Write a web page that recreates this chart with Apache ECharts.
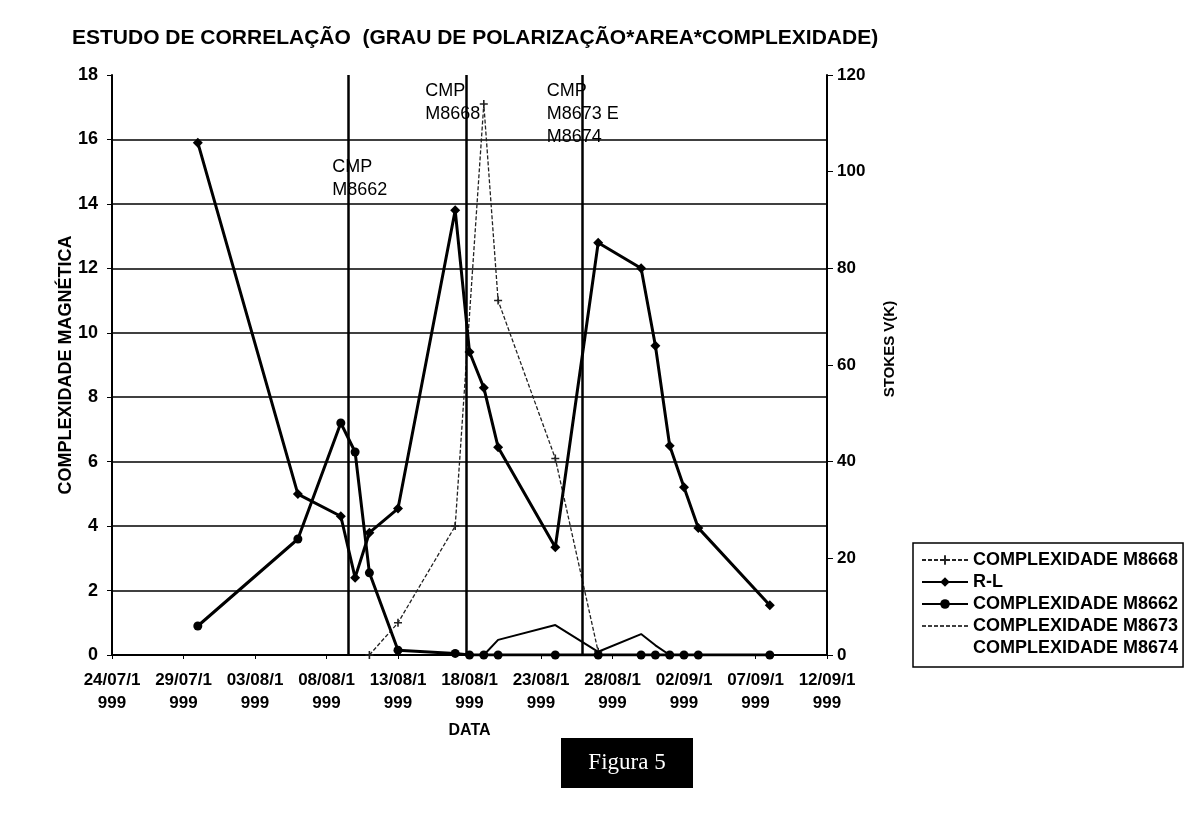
<!DOCTYPE html>
<html>
<head>
<meta charset="utf-8">
<script src="https://cdn.jsdelivr.net/npm/echarts@6/dist/echarts.min.js"></script>
<style>
html,body{margin:0;padding:0;background:#fff;}
#chart{width:1195px;height:827px;}
</style>
</head>
<body>
<div id="chart"></div>
<script>
// ---- data ----
const xTickLabels = ['24/07/1999','29/07/1999','03/08/1999','08/08/1999','13/08/1999','18/08/1999','23/08/1999','28/08/1999','02/09/1999','07/09/1999','12/09/1999'];
// day offsets from 24/07/1999
const rlDays = [6,13,16,17,18,20,24,25,26,27,31,34,37,38,39,40,41,46];
const rlValues = [106,33.3,28.7,16,25.3,30.3,92,62.7,55.3,43,22.3,85.3,80,64,43.3,34.7,26.3,10.3];
const m8662Days = [6,13,16,17,18,20,24,25,26,27,31,34,37,38,39,40,41,46];
const m8662Values = [0.9,3.6,7.2,6.3,2.55,0.15,0.05,0,0,0,0,0,0,0,0,0,0,0];
const m8668Days = [18,20,24,26,27,31,34];
const m8668Values = [0,1.0,4.0,17.1,11.0,6.1,0.1];
const m8673Days = [24,25,26,27,31,34,37,38,39,40,41,46];
const m8673Values = [0,0,0,0.47,0.93,0.1,0.65,0.3,0,0,0,0];
const m8674Days = [34,37,38,39,40,41,46];
const m8674Values = [0,0,0,0,0,0,0];
const cmpDays = [16.5, 24.75, 32.9];
const cmpLabels = ['CMP\nM8662', 'CMP\nM8668', 'CMP\nM8673 E\nM8674'];
const cmpLabelAnchor = [[15.4, 15.5], [21.9, 17.85], [30.4, 17.85]];

const pair = (xs, ys) => xs.map((x, i) => [x, ys[i]]);
const FONT = "'Liberation Sans', Arial, sans-serif";
const plusSym = 'path://M4,0h2v10h-2zM0,4h10v2h-10z';

const chart = echarts.init(document.getElementById('chart'), null, {renderer: 'canvas'});
const option = {
  backgroundColor: '#fff',
  animation: false,
  textStyle: {fontFamily: FONT, color: '#000'},
  title: {
    text: 'ESTUDO DE CORRELAÇÃO  (GRAU DE POLARIZAÇÃO*AREA*COMPLEXIDADE)',
    left: 67, top: 23,
    textStyle: {fontFamily: FONT, fontSize: 21, fontWeight: 'bold', color: '#000'}
  },
  grid: {left: 112, right: 368, top: 75, bottom: 172, containLabel: false},
  legend: {
    orient: 'vertical',
    left: 913, top: 543,
    padding: [8, 5, 10, 8],
    borderColor: '#000', borderWidth: 1.5,
    itemGap: 4, itemWidth: 46, itemHeight: 12,
    textStyle: {fontFamily: FONT, fontSize: 18, fontWeight: 'bold', color: '#000'},
    data: [
      {name: 'COMPLEXIDADE M8668'},
      {name: 'R-L'},
      {name: 'COMPLEXIDADE M8662'},
      {name: 'COMPLEXIDADE M8673', itemStyle: {opacity: 0}, lineStyle: {type: [4, 2], width: 1.5}},
      {name: 'COMPLEXIDADE M8674', icon: 'none'}
    ]
  },
  xAxis: {
    type: 'value', min: 0, max: 50, interval: 5,
    name: 'DATA', nameLocation: 'middle', nameGap: 68, nameMoveOverlap: false,
    nameTextStyle: {fontFamily: FONT, fontSize: 16, fontWeight: 'bold', color: '#000'},
    axisLine: {show: true, lineStyle: {color: '#000', width: 2}},
    axisTick: {show: true, length: 4, lineStyle: {color: '#000'}},
    splitLine: {show: false},
    axisLabel: {
      fontFamily: FONT, fontSize: 17, fontWeight: 'bold', color: '#000', margin: 14, lineHeight: 23,
      formatter: v => { const s = xTickLabels[Math.round(v / 5)] || ''; return s.slice(0, 7) + '\n' + s.slice(7); }
    }
  },
  yAxis: [
    {
      type: 'value', min: 0, max: 18, interval: 2, position: 'left',
      name: 'COMPLEXIDADE MAGNÉTICA', nameLocation: 'middle', nameGap: 37, nameRotate: 90, nameMoveOverlap: false,
      nameTextStyle: {fontFamily: FONT, fontSize: 18, fontWeight: 'bold', color: '#000'},
      axisLine: {show: true, lineStyle: {color: '#000', width: 2}},
      axisTick: {show: true, length: 5, lineStyle: {color: '#000'}},
      splitLine: {show: true, showMaxLine: false, lineStyle: {color: '#000', width: 1.5}},
      axisLabel: {fontFamily: FONT, fontSize: 18, fontWeight: 'bold', color: '#000', margin: 14}
    },
    {
      type: 'value', min: 0, max: 120, interval: 20, position: 'right',
      name: 'STOKES V(K)', nameLocation: 'middle', nameGap: 55, nameRotate: 90, nameMoveOverlap: false,
      nameTextStyle: {fontFamily: FONT, fontSize: 15, fontWeight: 'bold', color: '#000', padding: [0, 0, 0, 32]},
      axisLine: {show: true, lineStyle: {color: '#000', width: 2}},
      axisTick: {show: true, length: 6, lineStyle: {color: '#000'}},
      splitLine: {show: false},
      axisLabel: {fontFamily: FONT, fontSize: 17, fontWeight: 'bold', color: '#000', margin: 10}
    }
  ],
  series: [
    {
      name: 'COMPLEXIDADE M8668', type: 'line', yAxisIndex: 0,
      data: pair(m8668Days, m8668Values),
      symbol: plusSym, symbolSize: 8,
      itemStyle: {color: '#222'},
      lineStyle: {color: '#222', width: 1.3, type: [4, 2]}
    },
    {
      name: 'R-L', type: 'line', yAxisIndex: 1,
      data: pair(rlDays, rlValues),
      symbol: 'diamond', symbolSize: 10,
      itemStyle: {color: '#000'},
      lineStyle: {color: '#000', width: 3}
    },
    {
      name: 'COMPLEXIDADE M8662', type: 'line', yAxisIndex: 0,
      data: pair(m8662Days, m8662Values),
      symbol: 'circle', symbolSize: 9,
      itemStyle: {color: '#000'},
      lineStyle: {color: '#000', width: 3},
      markLine: {
        silent: true, symbol: 'none', label: {show: false},
        lineStyle: {color: '#000', width: 2.5, type: 'solid'},
        data: cmpDays.map(d => ({xAxis: d}))
      }
    },
    {
      name: 'COMPLEXIDADE M8673', type: 'line', yAxisIndex: 0,
      data: pair(m8673Days, m8673Values),
      symbol: 'none', showSymbol: false,
      itemStyle: {color: '#000'},
      lineStyle: {color: '#000', width: 2}
    },
    {
      name: 'COMPLEXIDADE M8674', type: 'line', yAxisIndex: 0,
      data: pair(m8674Days, m8674Values),
      symbol: 'none', showSymbol: false,
      itemStyle: {color: '#000'},
      lineStyle: {color: '#000', width: 0, opacity: 0}
    }
  ]
};
chart.setOption(option);

// annotations placed in data space
const gfx = cmpLabels.map((t, i) => {
  const p = chart.convertToPixel({xAxisIndex: 0, yAxisIndex: 0}, cmpLabelAnchor[i]);
  return {
    type: 'text', left: p[0], top: p[1], z: 100,
    style: {text: t, font: '18px ' + FONT, fill: '#000', lineHeight: 23}
  };
});
gfx.push({
  type: 'group', left: 561, top: 738,
  children: [
    {type: 'rect', shape: {x: 0, y: 0, width: 132, height: 50}, style: {fill: '#000'}},
    {type: 'text', style: {text: 'Figura 5', x: 66, y: 25, align: 'center', verticalAlign: 'middle',
      font: '23px "Liberation Serif", "DejaVu Serif", serif', fill: '#fff'}}
  ]
});
chart.setOption({graphic: gfx});
</script>
</body>
</html>
